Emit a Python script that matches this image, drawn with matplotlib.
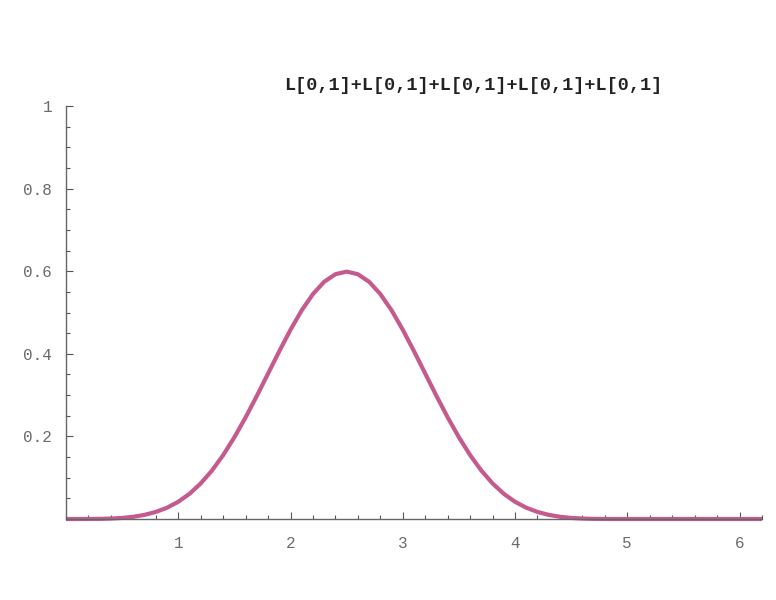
import matplotlib.pyplot as plt
from matplotlib.ticker import MultipleLocator, FixedLocator

#%% Data

xs = [0.0, 0.1, 0.2, 0.3, 0.4, 0.5, 0.6, 0.7, 0.8, 0.9,
      1.0, 1.1, 1.2, 1.3, 1.4, 1.5, 1.6, 1.7, 1.8, 1.9,
      2.0, 2.1, 2.2, 2.3, 2.4, 2.5, 2.6, 2.7, 2.8, 2.9,
      3.0, 3.1, 3.2, 3.3, 3.4, 3.5, 3.6, 3.7, 3.8, 3.9,
      4.0, 4.1, 4.2, 4.3, 4.4, 4.5, 4.6, 4.7, 4.8, 4.9,
      5.0, 5.5, 6.0, 6.2]
ys = [0.0, 0.0, 0.0001, 0.0003, 0.0011, 0.0026, 0.0054, 0.0100, 0.0171, 0.0273,
      0.0417, 0.0610, 0.0861, 0.1173, 0.1547, 0.1979, 0.2461, 0.2980, 0.3521, 0.4063,
      0.4583, 0.5054, 0.5447, 0.5744, 0.5927, 0.5990, 0.5927, 0.5744, 0.5447, 0.5054,
      0.4583, 0.4063, 0.3521, 0.2980, 0.2461, 0.1979, 0.1547, 0.1173, 0.0861, 0.0610,
      0.0417, 0.0273, 0.0171, 0.0100, 0.0054, 0.0026, 0.0011, 0.0003, 0.0001, 0.0,
      0.0, 0.0, 0.0, 0.0]

title = 'L[0,1]+L[0,1]+L[0,1]+L[0,1]+L[0,1]'
xticks = [1, 2, 3, 4, 5, 6]
yticks = [0.2, 0.4, 0.6, 0.8, 1.0]
yticklabels = ['0.2', '0.4', '0.6', '0.8', '1']

#%% Plot

fig = plt.figure(figsize=(7.76, 6), dpi=100)
ax = fig.add_axes([66/776, 81/600, 696/776, 413/600])

ax.plot(xs, ys, color='#c55a8e', lw=3.0, clip_on=False,
        solid_capstyle='butt', solid_joinstyle='round')

ax.set_xlim(0, 6.2)
ax.set_ylim(0, 1)

for s in ['top', 'right']:
    ax.spines[s].set_visible(False)
for s in ['left', 'bottom']:
    ax.spines[s].set_color('#666666')
    ax.spines[s].set_linewidth(1.0)

ax.xaxis.set_major_locator(FixedLocator(xticks))
ax.xaxis.set_minor_locator(MultipleLocator(0.2))
ax.yaxis.set_major_locator(FixedLocator(yticks))
ax.yaxis.set_minor_locator(MultipleLocator(0.05))
ax.set_xticklabels([str(t) for t in xticks])
ax.set_yticklabels(yticklabels)

ax.tick_params(which='both', direction='in', color='#555555', width=0.8)
ax.tick_params(which='major', length=5)
ax.tick_params(which='minor', length=3)
ax.tick_params(axis='x', pad=12)
ax.tick_params(axis='y', pad=10)
for lab in ax.get_xticklabels() + ax.get_yticklabels():
    lab.set_family('Liberation Mono')
    lab.set_fontsize(11.5)
    lab.set_color('#6a6a6a')

fig.text(473/776, 1 - 86/600, title, ha='center', va='center',
         family='Liberation Mono', fontweight='bold', fontsize=13.3, color='#222222')

plt.savefig('out.png', dpi=100)
